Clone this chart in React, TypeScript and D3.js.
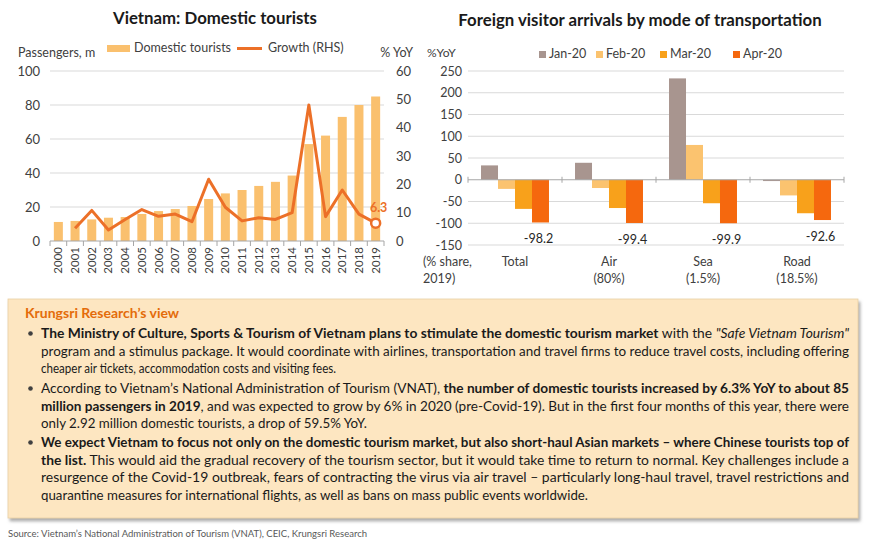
import * as d3 from "d3";

const W = 870;
const H = 547;
const FONT = "Lato, 'Open Sans', sans-serif";
const BODY_FONT = "'Liberation Sans Narrow', Lato, sans-serif";

// left chart data
const years = ["2000", "2001", "2002", "2003", "2004", "2005", "2006", "2007", "2008", "2009",
  "2010", "2011", "2012", "2013", "2014", "2015", "2016", "2017", "2018", "2019"];
const domesticTourists = [11.2, 11.8, 12.7, 13.7, 14.1, 15.9, 17.6, 18.8, 20.6, 24.7,
  28, 30, 32.4, 34.8, 38.5, 57, 62, 73, 80, 85];
const growthYoY: (number | null)[] = [null, 4.5, 10.8, 3.9, 7.6, 11.1, 8.7, 9.5, 6.8, 21.8,
  11.9, 7.1, 8.2, 7.6, 10.0, 48, 8.6, 18, 9.5, 6.3];
const leftTicks = [0, 20, 40, 60, 80, 100];
const rightTicks = [0, 10, 20, 30, 40, 50, 60];

// right chart data
const modes = ["Total", "Air", "Sea", "Road"];
const modeShares = ["", "(80%)", "(1.5%)", "(18.5%)"];
const months = ["Jan-20", "Feb-20", "Mar-20", "Apr-20"];
const jan20 = [33, 39, 233, -3];
const feb20 = [-21, -19, 80, -36];
const mar20 = [-67, -65, -54, -77];
const apr20 = [-98.2, -99.4, -99.9, -92.6];
const monthColors = ["#a8958f", "#fbc36f", "#f8a11b", "#f5680e"];
const arrivalTicks = [-150, -100, -50, 0, 50, 100, 150, 200, 250];

type Seg = { t: string; b?: boolean; i?: boolean };
type Line = { segs: Seg[]; width: number };

const FULL = 808;
const bullets: Line[][] = [
  [
    { segs: [{ t: "The Ministry of Culture, Sports & Tourism of Vietnam plans to stimulate the domestic tourism market", b: true }, { t: " with the " }, { t: "\"Safe Vietnam Tourism\"", i: true }], width: FULL },
    { segs: [{ t: "program and a stimulus package. It would coordinate with airlines, transportation and travel firms to reduce travel costs, including offering" }], width: FULL },
    { segs: [{ t: "cheaper air tickets, accommodation costs and visiting fees." }], width: 295 },
  ],
  [
    { segs: [{ t: "According to Vietnam\u2019s National Administration of Tourism (VNAT), " }, { t: "the number of domestic tourists increased by 6.3% YoY to about 85", b: true }], width: FULL },
    { segs: [{ t: "million passengers in 2019", b: true }, { t: ", and was expected to grow by 6% in 2020 (pre-Covid-19). But in the first four months of this year, there were" }], width: FULL },
    { segs: [{ t: "only 2.92 million domestic tourists, a drop of 59.5% YoY." }], width: 326 },
  ],
  [
    { segs: [{ t: "We expect Vietnam to focus not only on the domestic tourism market, but also short-haul Asian markets \u2013 where Chinese tourists top of", b: true }], width: FULL },
    { segs: [{ t: "the list.", b: true }, { t: " This would aid the gradual recovery of the tourism sector, but it would take time to return to normal. Key challenges include a" }], width: FULL },
    { segs: [{ t: "resurgence of the Covid-19 outbreak, fears of contracting the virus via air travel \u2013 particularly long-haul travel, travel restrictions and" }], width: FULL },
    { segs: [{ t: "quarantine measures for international flights, as well as bans on mass public events worldwide." }], width: 547 },
  ],
];
const bulletTops = [338, 393, 447];

const DomesticChart = () => {
  const x = d3.scaleBand().domain(years).range([50, 384]).paddingInner(0.46).paddingOuter(0.23);
  const yL = d3.scaleLinear().domain([0, 100]).range([241, 71]);
  const yR = d3.scaleLinear().domain([0, 60]).range([241, 71]);
  const cx = (yr: string) => (x(yr) as number) + x.bandwidth() / 2;
  const line = d3.line<number | null>()
    .defined(d => d !== null)
    .x((_, i) => cx(years[i]))
    .y(d => yR(d as number));
  const last = years.length - 1;
  const step = x.step();
  return (
    <g fontFamily={FONT}>
      <text x={215} y={24} textAnchor="middle" fontSize={16.8} fontWeight="bold" fill="#1a1a1a">Vietnam: Domestic tourists</text>
      <text x={18} y={57} fontSize={12.5} fill="#404040">Passengers, m</text>
      <text x={413} y={57} fontSize={12.5} fill="#404040" textAnchor="end">% YoY</text>
      <rect x={107} y={45} width={23} height={7} fill="#fac06e" />
      <text x={134} y={52} fontSize={12.5} fill="#404040">Domestic tourists</text>
      <line x1={237} x2={262} y1={48.5} y2={48.5} stroke="#ec7028" strokeWidth={3} />
      <text x={268} y={52} fontSize={12.5} fill="#404040">Growth (RHS)</text>
      {leftTicks.filter(t => t > 0).map(t => (
        <line key={t} x1={50} x2={384} y1={yL(t)} y2={yL(t)} stroke="#d9d9d9" />
      ))}
      {leftTicks.map(t => (
        <text key={t} x={40} y={yL(t) + 4.5} textAnchor="end" fontSize={13} fill="#404040">{t}</text>
      ))}
      {rightTicks.map(t => (
        <text key={t} x={396} y={yR(t) + 4.5} fontSize={13} fill="#404040">{t}</text>
      ))}
      {years.map((yr, i) => (
        <rect key={yr} x={x(yr)} y={yL(domesticTourists[i])} width={x.bandwidth()}
          height={yL(0) - yL(domesticTourists[i])} fill="#fac06e" />
      ))}
      <line x1={50} x2={384} y1={yL(0)} y2={yL(0)} stroke="#a6a6a6" />
      {d3.range(years.length + 1).map(i => (
        <line key={i} x1={50 + i * step} x2={50 + i * step} y1={yL(0)} y2={yL(0) + 5} stroke="#a6a6a6" />
      ))}
      <path d={line(growthYoY) ?? ""} fill="none" stroke="#ec7028" strokeWidth={3} strokeLinejoin="round" />
      <circle cx={cx(years[last])} cy={yR(growthYoY[last] as number)} r={4.5} fill="#fff" stroke="#ec7028" strokeWidth={2.5} />
      <text x={cx(years[last]) + 3} y={yR(growthYoY[last] as number) - 11} textAnchor="middle" fontSize={12.5} fontWeight="bold" fill="#ec7028">{growthYoY[last]}</text>
      {years.map(yr => (
        <text key={yr} transform={`translate(${cx(yr) + 4},247) rotate(-90)`} textAnchor="end" fontSize={11.5} fill="#404040">{yr}</text>
      ))}
    </g>
  );
};

const ArrivalsChart = () => {
  const x0 = d3.scaleBand().domain(modes).range([468, 844]).paddingInner(0.277).paddingOuter(0.1385);
  const x1 = d3.scaleBand().domain(months).range([0, x0.bandwidth()]);
  const y = d3.scaleLinear().domain([-150, 250]).range([245, 71]);
  const series = [jan20, feb20, mar20, apr20];
  const step = x0.step();
  const legendX = [539, 596, 660, 733];
  return (
    <g fontFamily={FONT}>
      <text x={640} y={26} textAnchor="middle" fontSize={16.8} fontWeight="bold" fill="#1a1a1a">Foreign visitor arrivals by mode of transportation</text>
      <text x={427} y={57} fontSize={12} fill="#404040">%YoY</text>
      {months.map((m, i) => (
        <g key={m}>
          <rect x={legendX[i]} y={51} width={7} height={7} fill={monthColors[i]} />
          <text x={legendX[i] + 10} y={58} fontSize={12.5} fill="#404040">{m}</text>
        </g>
      ))}
      {arrivalTicks.map(t => (
        <g key={t}>
          {t !== 0 && <line x1={468} x2={844} y1={y(t)} y2={y(t)} stroke="#d9d9d9" />}
          <text x={462} y={y(t) + 4.5} textAnchor="end" fontSize={12.5} fill="#404040">{t}</text>
        </g>
      ))}
      {modes.map((mode, gi) => (
        <g key={mode} transform={`translate(${x0(mode)},0)`}>
          {series.map((s, si) => {
            const v = s[gi];
            return (
              <rect key={si} x={x1(months[si])} y={y(Math.max(0, v))} width={x1.bandwidth()}
                height={Math.abs(y(v) - y(0))} fill={monthColors[si]} />
            );
          })}
          <text x={(x1(months[3]) as number) + x1.bandwidth() / 2 - 2} y={y(apr20[gi]) + 21}
            textAnchor="middle" fontSize={12.5} fill="#262626">{apr20[gi]}</text>
        </g>
      ))}
      <line x1={468} x2={844} y1={y(0)} y2={y(0)} stroke="#a6a6a6" />
      {d3.range(modes.length + 1).map(i => (
        <line key={i} x1={468 + i * step} x2={468 + i * step} y1={y(0) - 3} y2={y(0) + 3} stroke="#a6a6a6" />
      ))}
      {modes.map((mode, gi) => (
        <g key={mode}>
          <text x={(x0(mode) as number) + x0.bandwidth() / 2} y={266} textAnchor="middle" fontSize={12.5} fill="#404040">{mode}</text>
          <text x={(x0(mode) as number) + x0.bandwidth() / 2} y={283} textAnchor="middle" fontSize={12.5} fill="#404040">{modeShares[gi]}</text>
        </g>
      ))}
      <text x={423} y={266} fontSize={12.5} fill="#404040">(% share,</text>
      <text x={423} y={283} fontSize={12.5} fill="#404040">2019)</text>
    </g>
  );
};

const ViewBox = () => (
  <g>
    <defs>
      <filter id="shadow" x="-5%" y="-5%" width="110%" height="115%">
        <feDropShadow dx={2} dy={3} stdDeviation={1.8} floodColor="#8c8c8c" floodOpacity={0.7} />
      </filter>
    </defs>
    <rect x={8} y={299} width={850} height={219} fill="#fde6c1" stroke="#e8cfa4" strokeWidth={0.8} filter="url(#shadow)" />
    <text x={25} y={318} fontFamily={BODY_FONT} fontSize={14} fontWeight="bold" fill="#e46c0a">Krungsri Research’s view</text>
    {bullets.map((lines, bi) => (
      <g key={bi}>
        <circle cx={30.5} cy={bulletTops[bi] - 4.5} r={2.3} fill="#404040" />
        {lines.map((ln, li) => (
          <text key={li} x={41} y={bulletTops[bi] + li * 17.6} fontFamily={BODY_FONT} fontSize={13}
            fill="#1a1a1a" textLength={ln.width} lengthAdjust="spacingAndGlyphs">
            {ln.segs.map((s, si) => (
              <tspan key={si} fontWeight={s.b ? "bold" : "normal"} fontStyle={s.i ? "italic" : "normal"}>{s.t}</tspan>
            ))}
          </text>
        ))}
      </g>
    ))}
    <text x={8} y={537} fontFamily={BODY_FONT} fontSize={10} fill="#595959" textLength={359} lengthAdjust="spacingAndGlyphs">
      Source: Vietnam’s National Administration of Tourism (VNAT), CEIC, Krungsri Research
    </text>
  </g>
);

export default function App() {
  return (
    <svg width={W} height={H} viewBox={`0 0 ${W} ${H}`}
      style={{ position: "absolute", left: 0, top: 0, background: "#fff" }}>
      <DomesticChart />
      <ArrivalsChart />
      <ViewBox />
    </svg>
  );
}
